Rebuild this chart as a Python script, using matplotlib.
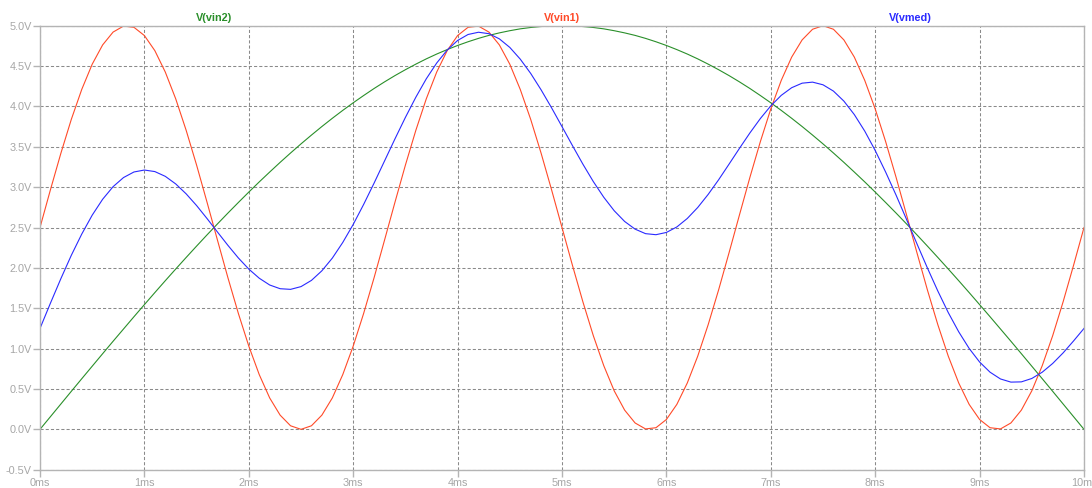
import matplotlib
matplotlib.use('Agg')
import matplotlib.pyplot as plt
import numpy as np

plt.rcParams['font.family'] = ['Liberation Sans', 'DejaVu Sans']

# time axis in ms, one sample every 0.1 ms
t_ms = np.round(np.arange(0, 101) * 0.1, 1)

v_vin1 = [2.500, 2.968, 3.420, 3.840, 4.211, 4.523, 4.762, 4.921, 4.995, 4.980,
          4.878, 4.691, 4.426, 4.094, 3.704, 3.273, 2.813, 2.343, 1.878, 1.436,
          1.031, 0.678, 0.389, 0.176, 0.044, 0.000, 0.044, 0.176, 0.389, 0.678,
          1.031, 1.436, 1.878, 2.343, 2.813, 3.273, 3.704, 4.094, 4.426, 4.691,
          4.878, 4.980, 4.995, 4.921, 4.762, 4.523, 4.211, 3.840, 3.420, 2.968,
          2.500, 2.032, 1.580, 1.160, 0.789, 0.477, 0.238, 0.079, 0.005, 0.020,
          0.122, 0.309, 0.574, 0.906, 1.296, 1.727, 2.187, 2.657, 3.122, 3.564,
          3.969, 4.322, 4.611, 4.824, 4.956, 5.000, 4.956, 4.824, 4.611, 4.322,
          3.969, 3.564, 3.122, 2.657, 2.187, 1.727, 1.296, 0.906, 0.574, 0.309,
          0.122, 0.020, 0.005, 0.079, 0.238, 0.477, 0.789, 1.160, 1.580, 2.032,
          2.500]

v_vin2 = [0.000, 0.157, 0.314, 0.471, 0.627, 0.782, 0.937, 1.091, 1.243, 1.395,
          1.545, 1.694, 1.841, 1.986, 2.129, 2.270, 2.409, 2.545, 2.679, 2.810,
          2.939, 3.065, 3.187, 3.307, 3.423, 3.536, 3.645, 3.751, 3.853, 3.951,
          4.045, 4.135, 4.222, 4.304, 4.382, 4.455, 4.524, 4.589, 4.649, 4.704,
          4.755, 4.801, 4.843, 4.880, 4.911, 4.938, 4.961, 4.978, 4.990, 4.998,
          5.000, 4.998, 4.990, 4.978, 4.961, 4.938, 4.911, 4.880, 4.843, 4.801,
          4.755, 4.704, 4.649, 4.589, 4.524, 4.455, 4.382, 4.304, 4.222, 4.135,
          4.045, 3.951, 3.853, 3.751, 3.645, 3.536, 3.423, 3.307, 3.187, 3.065,
          2.939, 2.810, 2.679, 2.545, 2.409, 2.270, 2.129, 1.986, 1.841, 1.694,
          1.545, 1.395, 1.243, 1.091, 0.937, 0.782, 0.627, 0.471, 0.314, 0.157,
          0.000]

v_vmed = [1.250, 1.563, 1.867, 2.156, 2.419, 2.653, 2.850, 3.006, 3.119, 3.188,
          3.212, 3.193, 3.134, 3.040, 2.917, 2.772, 2.611, 2.444, 2.279, 2.123,
          1.985, 1.872, 1.788, 1.742, 1.734, 1.768, 1.845, 1.964, 2.121, 2.315,
          2.538, 2.786, 3.050, 3.324, 3.598, 3.864, 4.114, 4.342, 4.538, 4.698,
          4.817, 4.891, 4.919, 4.901, 4.837, 4.731, 4.586, 4.409, 4.205, 3.983,
          3.750, 3.515, 3.285, 3.069, 2.875, 2.708, 2.575, 2.480, 2.424, 2.411,
          2.439, 2.507, 2.612, 2.748, 2.910, 3.091, 3.285, 3.481, 3.672, 3.850,
          4.007, 4.137, 4.232, 4.288, 4.301, 4.268, 4.190, 4.066, 3.899, 3.694,
          3.454, 3.187, 2.901, 2.601, 2.298, 1.999, 1.713, 1.446, 1.208, 1.002,
          0.834, 0.708, 0.624, 0.585, 0.588, 0.630, 0.708, 0.816, 0.947, 1.095,
          1.250]

trace_names = ['V(vin2)', 'V(vin1)', 'V(vmed)']
trace_colors = ['#2a8f2a', '#ff4a28', '#2a2aff']

x_ticks = list(range(0, 11))
x_labels = ['%dms' % v for v in x_ticks]
y_ticks = [-0.5, 0.0, 0.5, 1.0, 1.5, 2.0, 2.5, 3.0, 3.5, 4.0, 4.5, 5.0]
y_labels = ['%.1fV' % v for v in y_ticks]


fig = plt.figure(figsize=(10.92, 4.88), dpi=100)
ax = fig.add_axes([40 / 1092, 18.3 / 488, 1044 / 1092, 444 / 488])

series = [v_vin2, v_vin1, v_vmed]
for values, color in zip(series, trace_colors):
    ax.plot(t_ms, values, color=color, lw=0.8)

ax.set_xlim(0, 10)
ax.set_ylim(-0.5, 5.0)
ax.set_xticks(x_ticks)
ax.set_xticklabels(x_labels)
ax.set_yticks(y_ticks)
ax.set_yticklabels(y_labels)

ax.grid(True, color='#8a8a8a', lw=0.75, linestyle=(0, (3, 2)))
for side in ['left', 'right', 'top', 'bottom']:
    ax.spines[side].set_color('#b4b4b4')
    ax.spines[side].set_linewidth(1.0)
ax.tick_params(axis='both', colors='#b4b4b4', labelcolor='#a6a6a6',
               labelsize=7.8, length=5, width=1.0, pad=1)

# trace names above the plot, as LTspice draws them
for i, (name, color) in enumerate(zip(trace_names, trace_colors)):
    ax.text((2 * i + 1) / 6, 1.018, name, transform=ax.transAxes,
            ha='center', va='center', color=color, fontsize=7.8,
            fontweight='bold')

fig.savefig('out.png', dpi=100)
